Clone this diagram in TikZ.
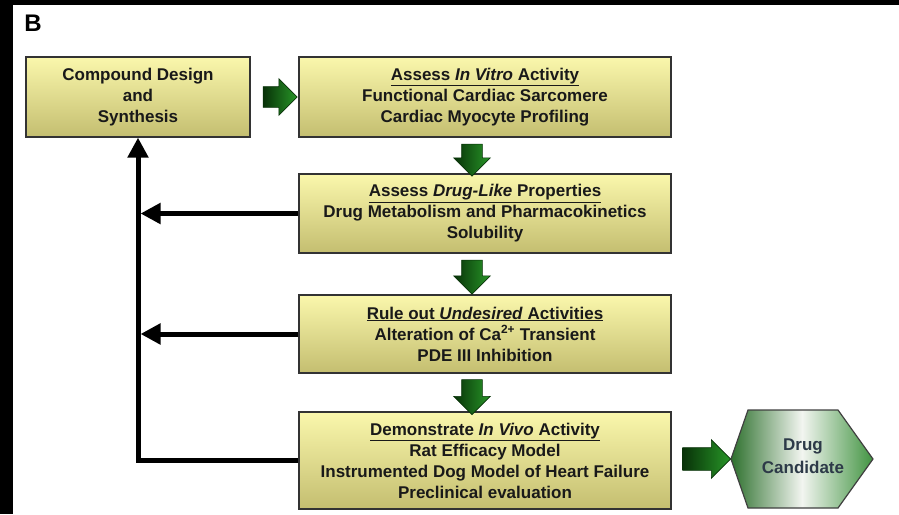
\documentclass[tikz,border=0pt]{standalone}
\usepackage{fontspec}
\setmainfont{Liberation Sans}
\usetikzlibrary{shapes.arrows,arrows.meta}
\definecolor{boxtop}{RGB}{250,247,172}
\definecolor{boxbot}{RGB}{196,190,112}
\definecolor{gdark}{RGB}{8,50,8}
\definecolor{glight}{RGB}{40,150,40}
\definecolor{hexleft}{RGB}{45,112,45}
\definecolor{hexmid}{RGB}{242,245,240}
\definecolor{hexright}{RGB}{66,148,66}
\definecolor{hextext}{RGB}{45,58,72}
\begin{document}
\begin{tikzpicture}[x=1pt,y=-1pt]
    \tikzstyle{stage}=[draw=black!80, line width=1.2pt, top color=boxtop, bottom color=boxbot, align=center, text=black!90, font=\fontsize{17}{21}\selectfont\bfseries, inner sep=0pt]
    \tikzstyle{garrow}=[single arrow, draw=gdark, line width=0.6pt, left color=gdark, right color=glight, inner xsep=0pt, inner ysep=10pt, single arrow head extend=8pt]
    \tikzstyle{back}=[line width=5pt, -{Triangle[length=20pt,width=20pt]}]

    \useasboundingbox (0,0) rectangle (899,514);
    \fill[black] (0,0) rectangle (899,5);
    \fill[black] (0,0) rectangle (13,514);

    \node(lbl) at (33,23) {\fontsize{24}{24}\selectfont\bfseries B};

    \node[stage, minimum width=224pt, minimum height=80pt](b_1) at (138,97) {Compound Design\\and\\Synthesis};
    \node[stage, minimum width=372pt, minimum height=80pt](b_2) at (485,97)
        {\underline{Assess \textit{In Vitro} Activity}\\Functional Cardiac Sarcomere\\Cardiac Myocyte Profiling};
    \node[stage, minimum width=372pt, minimum height=79pt](b_3) at (485,213.5)
        {\underline{Assess \textit{Drug-Like} Properties}\\Drug Metabolism and Pharmacokinetics\\Solubility};
    \node[stage, minimum width=372pt, minimum height=78pt](b_4) at (485,334)
        {\underline{Rule out \textit{Undesired} Activities}\\Alteration of Ca\textsuperscript{2+} Transient\\PDE III Inhibition};
    \node[stage, minimum width=372pt, minimum height=97pt](b_5) at (485,460.5)
        {\underline{Demonstrate \textit{In Vivo} Activity}\\Rat Efficacy Model\\Instrumented Dog Model of Heart Failure\\Preclinical evaluation};

    \path[draw=black!75, line width=1.2pt, left color=hexleft, right color=hexright, middle color=hexmid]
        (731,459) -- (748,410) -- (838,410) -- (873,459) -- (838,508) -- (748,508) -- cycle;
    \node[align=center, text=hextext, font=\fontsize{17}{23}\selectfont\bfseries](cand) at (803,456) {Drug\\Candidate};

    \node[garrow, minimum height=34pt](a_12) at (275,97) {};
    \node[garrow, minimum height=32pt, rotate=-90](a_23) at (472,155) {};
    \node[garrow, minimum height=34pt, rotate=-90](a_34) at (472,272) {};
    \node[garrow, minimum height=35pt, rotate=-90](a_45) at (472,392) {};
    \node[garrow, minimum height=48pt, inner ysep=11pt](a_5c) at (701,459) {};

    \draw[back] (b_5.west) -| (b_1.south);
    \draw[back, shorten >=2.5pt] (b_3.west) -- (b_3.west -| b_1.south);
    \draw[back, shorten >=2.5pt] (b_4.west) -- (b_4.west -| b_1.south);

\end{tikzpicture}
\end{document}
